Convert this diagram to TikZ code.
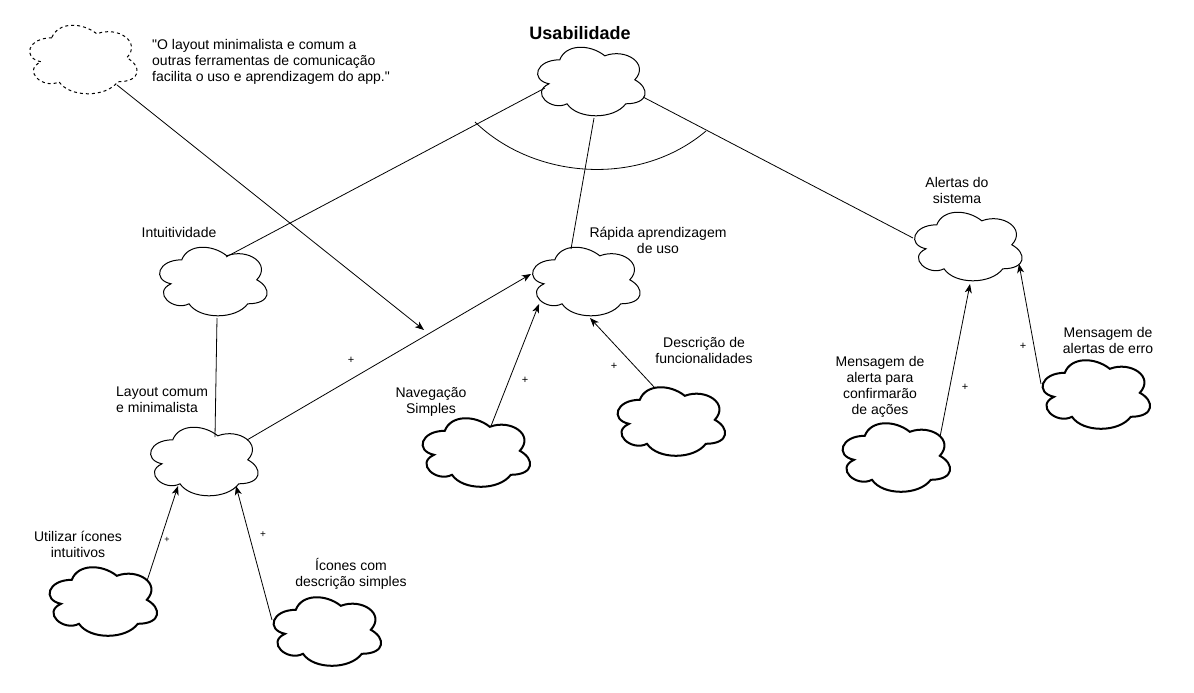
\documentclass[tikz,border=0pt]{standalone}
\usepackage{fontspec}
\setmainfont{Liberation Sans}[Ligatures=TeXOff]
\usetikzlibrary{arrows.meta}
\newcommand\drawcloud[2]{%
  \draw[#2,shift={(#1.north west)}] (30,20) .. controls (6,20) and (0,40) .. (19.2,44)
    .. controls (0,52.8) and (21.6,72) .. (37.2,64)
    .. controls (48,80) and (84,80) .. (96,64)
    .. controls (120,64) and (120,48) .. (105,40)
    .. controls (120,24) and (96,8) .. (75,16)
    .. controls (60,4) and (36,4) .. (30,20) -- cycle;}
\begin{document}
\begin{tikzpicture}[x=1pt,y=-1pt,
  cloudbox/.style={minimum width=120pt,minimum height=80pt,inner sep=0pt,draw=none},
  thin cloud/.style={line width=1pt},
  thick cloud/.style={line width=2pt},
  dash cloud/.style={line width=1pt,dash pattern=on 3pt off 3pt},
  lbl/.style={font=\fontsize{14}{16}\selectfont,align=center,inner sep=0pt},
  plus/.style={font=\fontsize{11}{12}\selectfont,inner sep=0pt},
  conn/.style={line width=0.8pt},
  arr/.style={line width=0.8pt,-{Stealth[length=9pt,width=7pt,inset=2.5pt]}}]
\useasboundingbox (0,0) rectangle (1194,693);
\fill[white] (0,0) rectangle (1194,693);

% cloud nodes
\node[cloudbox] (quote)  at (82,58) {};
\node[cloudbox] (usab)   at (590,80) {};
\node[cloudbox] (intuit) at (212,280) {};
\node[cloudbox] (rapida) at (585,280) {};
\node[cloudbox] (alert)  at (967,245) {};
\node[cloudbox] (layout) at (203,460) {};
\node[cloudbox] (util)   at (102,600) {};
\node[cloudbox] (icones) at (326,630) {};
\node[cloudbox] (naveg)  at (475,451) {};
\node[cloudbox] (descr)  at (670,420) {};
\node[cloudbox] (msgal)  at (895,456) {};
\node[cloudbox] (msger)  at (1095,393) {};

\drawcloud{quote}{dash cloud}
\drawcloud{usab}{thin cloud}
\drawcloud{intuit}{thin cloud}
\drawcloud{rapida}{thin cloud}
\drawcloud{alert}{thin cloud}
\drawcloud{layout}{thin cloud}
\drawcloud{util}{thick cloud}
\drawcloud{icones}{thick cloud}
\drawcloud{naveg}{thick cloud}
\drawcloud{descr}{thick cloud}
\drawcloud{msgal}{thick cloud}
\drawcloud{msger}{thick cloud}

% labels
\node[font=\fontsize{18}{20}\selectfont\bfseries,inner sep=0pt] (tusab) at (580,33) {Usabilidade};
\node[lbl,anchor=west,align=left] (tquote) at (152,62) {"O layout minimalista e comum a\\outras ferramentas de comunicação\\facilita o uso e aprendizagem do app."};
\node[lbl] (tintuit) at (179,232) {Intuitividade};
\node[lbl] (trapida) at (658,240) {Rápida aprendizagem\\de uso};
\node[lbl] (talert) at (957,190) {Alertas do\\sistema};
\node[lbl,anchor=west,align=left] (tlayout) at (116,400) {Layout comum\\e minimalista};
\node[lbl] (tnaveg) at (431,402) {Navegação\\Simples};
\node[lbl] (tdescr) at (704,350) {Descrição de\\funcionalidades};
\node[lbl] (tmsgal) at (880,387) {Mensagem de\\alerta para\\confirmarão\\de ações};
\node[lbl] (tmsger) at (1108,340) {Mensagem de\\alertas de erro};
\node[lbl] (tutil) at (78,544) {Utilizar ícones\\intuitivos};
\node[lbl] (ticones) at (351,574) {Ícones com\\descrição simples};

% connectors from Usabilidade
\draw[conn] ([shift={(-45,8)}]usab.center) -- ([shift={(14,-23)}]intuit.center);
\draw[conn] ([shift={(4,38)}]usab.center) -- ([shift={(-14,-31)}]rapida.center);
\draw[conn] ([shift={(53,17)}]usab.center) -- ([shift={(-54,-7)}]alert.center);
% arc
\draw[conn] (475,122) .. controls (535,180) and (640,187) .. (706,131);

% intuitividade - layout
\draw[conn] ([shift={(12,-23)}]layout.center) -- ([shift={(5,38)}]intuit.center);

% quote arrow
\coordinate (qend) at (424,330);
\draw[arr] ([shift={(35,27)}]quote.center) -- (qend);

% arrows with +
\draw[arr] ([shift={(44,-20)}]layout.center) -- ([shift={(-54,-6)}]rapida.center);
\draw[arr] ([shift={(16,-25)}]naveg.center) -- ([shift={(-46,24)}]rapida.center);
\draw[arr] ([shift={(-15,-32)}]descr.center) -- ([shift={(5,38)}]rapida.center);
\draw[arr] ([shift={(45,-19)}]util.center) -- ([shift={(-25,26)}]layout.center);
\draw[arr] ([shift={(-54,-10)}]icones.center) -- ([shift={(33,26)}]layout.center);
\draw[arr] ([shift={(45,-19)}]msgal.center) -- ([shift={(3,39)}]alert.center);
\draw[arr] ([shift={(-54,-9)}]msger.center) -- ([shift={(52,19)}]alert.center);

\node[plus] (p1) at (351,360) {+};
\node[plus] (p2) at (525,380) {+};
\node[plus] (p3) at (614,366) {+};
\node[plus,font=\fontsize{9}{10}\selectfont] (p4) at (167,540) {+};
\node[plus,font=\fontsize{10}{10}\selectfont] (p5) at (263,535) {+};
\node[plus] (p6) at (965,387) {+};
\node[plus] (p7) at (1023,346) {+};
\end{tikzpicture}
\end{document}
